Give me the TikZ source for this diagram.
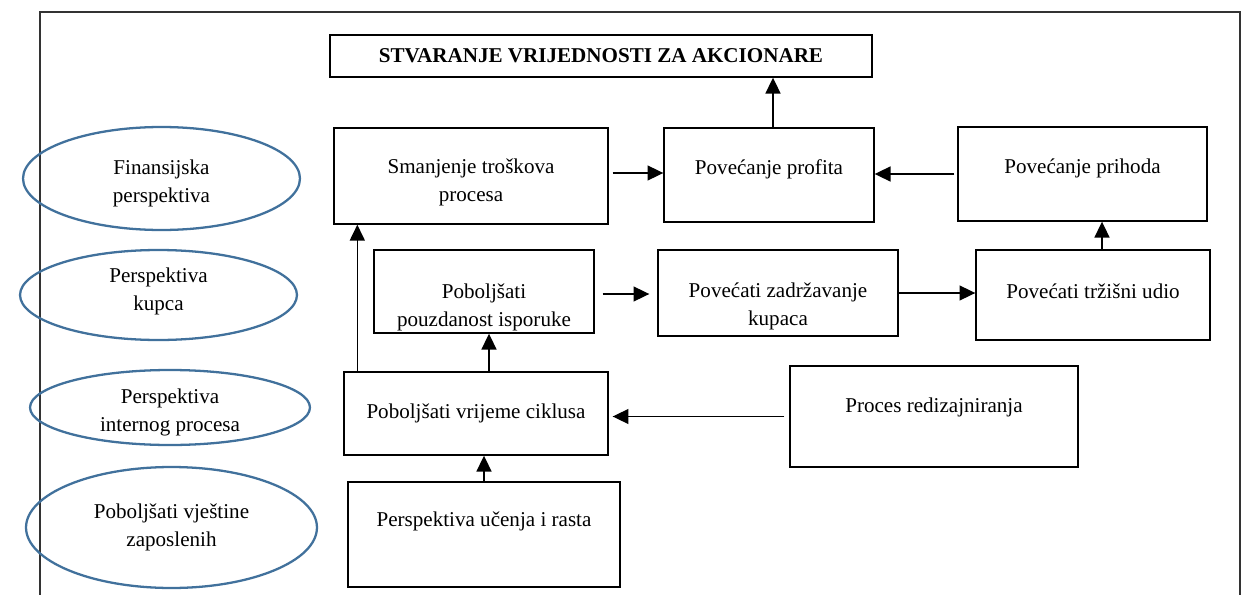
\documentclass[tikz,border=0pt]{standalone}
\usepackage{fontspec}
\setmainfont{Liberation Serif}
\usetikzlibrary{shapes.geometric, arrows.meta, calc}
\definecolor{ellline}{HTML}{41719C}

\begin{document}
\begin{tikzpicture}[x=0.02cm, y=-0.02cm,
		box/.style={rectangle, draw=black, line width=0.8pt, inner sep=2pt, align=center,
			font=\fontsize{12}{16}\selectfont},
		persp/.style={ellipse, draw=ellline, line width=1.3pt, inner sep=0pt, align=center,
			font=\fontsize{12}{16}\selectfont},
		lbl/.style={align=center, font=\fontsize{12}{16}\selectfont},
		arrow/.style={-{Triangle[length=9pt, width=8.5pt]}, line width=0.85pt},
		]
		\useasboundingbox (0,0) rectangle (1248,595);

		% Frame
		\draw[black!80, line width=1.2pt] (40,595) -- (40,12) -- (1240,12) -- (1240,595);

		% Perspectives
		\node[persp, minimum width=5.54cm, minimum height=2.06cm,
			label={[lbl, yshift=-0.1cm]center:Finansijska\\perspektiva}] (fin) at (161.5,178.5) {};
		\node[persp, minimum width=5.54cm, minimum height=1.8cm,
			label={[lbl, yshift=0.08cm]center:Perspektiva\\kupca}] (kup) at (158.5,295) {};
		\node[persp, minimum width=5.6cm, minimum height=1.5cm,
			label={[lbl, yshift=-0.1cm]center:Perspektiva\\internog procesa}] (int) at (170,407.5) {};
		\node[persp, minimum width=5.82cm, minimum height=2.42cm] (vje) at (171.5,527.5) {Poboljšati vještine\\zaposlenih};

		% Blocks
		\node[box, minimum width=10.84cm, minimum height=0.84cm] (title) at (601,56) {\textbf{STVARANJE VRIJEDNOSTI ZA AKCIONARE}};
		\node[box, minimum width=5.48cm, minimum height=1.92cm,
			label={[lbl, yshift=-0.12cm]center:Smanjenje troškova\\procesa}] (smanj) at (471,176) {};
		\node[box, minimum width=4.2cm, minimum height=1.88cm,
			label={[lbl, yshift=0.12cm]center:Povećanje profita}] (profit) at (769,175) {};
		\node[box, minimum width=4.98cm, minimum height=1.88cm,
			label={[lbl, yshift=0.12cm]center:Povećanje prihoda}] (prihod) at (1082.5,174) {};
		\node[box, minimum width=4.4cm, minimum height=1.66cm,
			label={[lbl, yshift=-0.32cm]center:Poboljšati\\pouzdanost isporuke}] (pouzd) at (484,291.5) {};
		\node[box, minimum width=4.8cm, minimum height=1.72cm,
			label={[lbl, yshift=-0.26cm]center:Povećati zadržavanje\\kupaca}] (zadrz) at (778,293) {};
		\node[box, minimum width=4.68cm, minimum height=1.8cm,
			label={[lbl, yshift=0.08cm]center:Povećati tržišni udio}] (trziste) at (1093,295) {};
		\node[box, minimum width=5.28cm, minimum height=1.66cm] (ciklus) at (476,413.5) {Poboljšati vrijeme ciklusa};
		\node[box, minimum width=5.76cm, minimum height=2.02cm,
			label={[lbl, yshift=0.18cm]center:Proces redizajniranja}] (redizajn) at (934,416.5) {};
		\node[box, minimum width=5.44cm, minimum height=2.1cm,
			label={[lbl, yshift=0.26cm]center:Perspektiva učenja i rasta}] (ucenje) at (484,534.5) {};

		% Arrows
		\draw[arrow] ([xshift=0.08cm]profit.north) -- ([xshift=0.08cm]profit.north |- title.south);
		\draw[arrow] ([xshift=0.08cm, yshift=0.06cm]smanj.east) -- ([yshift=0.06cm]smanj.east -| profit.west);
		\draw[arrow] ([xshift=-0.06cm]prihod.west) -- (prihod.west -| profit.east);
		\draw[arrow] ([xshift=0.18cm]trziste.north) -- ([xshift=0.18cm]trziste.north |- prihod.south);
		\draw[arrow] ([xshift=0.16cm, yshift=-0.05cm]pouzd.east) -- ([xshift=-0.16cm, yshift=-0.05cm]pouzd.east -| zadrz.west);
		\draw[arrow] (zadrz.east) -- (zadrz.east -| trziste.west);
		\draw[arrow] ([xshift=0.28cm]ciklus.north west) -- ([xshift=0.28cm]ciklus.north west |- smanj.south);
		\draw[arrow] ([xshift=0.26cm]ciklus.north) -- ([xshift=0.26cm]ciklus.north |- pouzd.south);
		\draw[arrow] ([xshift=-0.1cm]redizajn.west) -- ([xshift=0.08cm]redizajn.west -| ciklus.east);
		\draw[arrow] (ucenje.north) -- (ucenje.north |- ciklus.south);
	\end{tikzpicture}
\end{document}
